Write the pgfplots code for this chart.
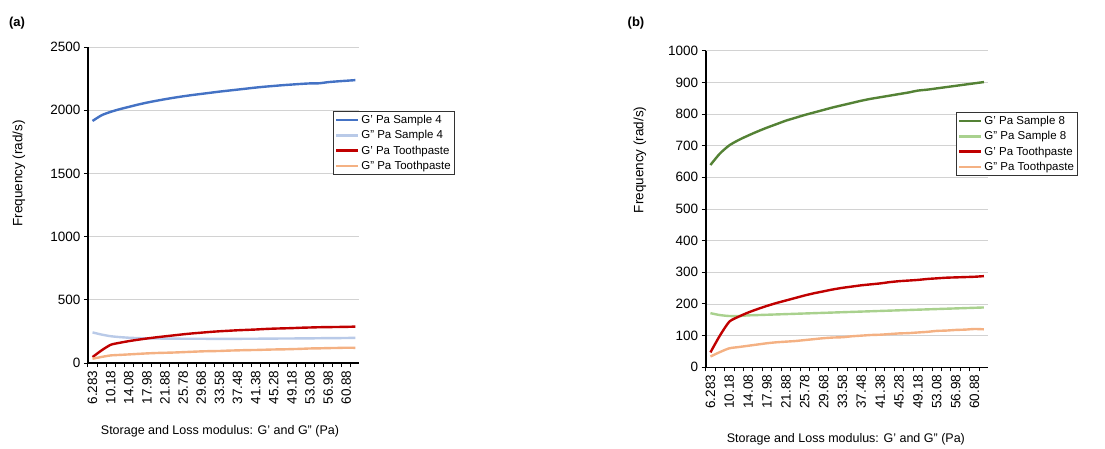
\documentclass[border=0pt]{standalone}
\usepackage{fontspec}
\setmainfont{Liberation Sans}
\usepackage{pgfplots}
\usepackage{pgfplotstable}
\pgfplotsset{compat=1.18}

\newcommand{\sq}{\symbol{39}}
\newcommand{\dq}{\symbol{34}}

\definecolor{cBlue}{HTML}{4472C4}
\definecolor{cLBlue}{HTML}{B9CAE8}
\definecolor{cRed}{HTML}{C00000}
\definecolor{cOrange}{HTML}{F4B183}
\definecolor{cGreen}{HTML}{548235}
\definecolor{cLGreen}{HTML}{A9D18E}

% i = category index (6.283 ... 62.83 rad/s)
\pgfplotstableread{
i  gps4 gpps4 gps8 gpps8 gpt  gppt
0  1915 242   639  171   47   34
1  1960 225   675  165   100  48
2  1987 212   701  162   144  60
3  2008 205   718  162   160  64
4  2026 200   732  164   173  68
5  2044 197   745  165   184  72
6  2060 195   757  166   194  76
7  2074 194   768  167   203  79
8  2087 193   779  168   211  81
9  2099 193   788  169   219  83
10 2110 192   797  170   227  86
11 2120 192   805  171   234  89
12 2129 192   813  172   240  92
13 2138 191   821  173   246  94
14 2147 191   828  174   251  95
15 2155 191   835  175   255  98
16 2163 191   842  176   259  100
17 2171 192   848  177   262  102
18 2179 192   853  178   265  103
19 2186 193   858  179   269  105
20 2192 193   863  180   272  107
21 2198 194   868  181   274  108
22 2203 194   874  182   276  110
23 2208 195   877  183   279  112
24 2212 195   881  184   281  115
25 2213 196   885  185   283  116
26 2222 197   889  186   284  118
27 2228 197   893  187   285  119
28 2233 198   897  188   286  121
29 2238 199   901  189   288  120
}\rheo

\pgfplotsset{
  panel/.style={
    scale only axis,
    axis x line*=bottom, axis y line*=left,
    axis line style={black, line width=1.6pt},
    xmin=-0.5, xmax=29.4, ymin=0,
    xtick={0,2,...,28},
    xticklabels={6.283,10.18,14.08,17.98,21.88,25.78,29.68,33.58,37.48,41.38,45.28,49.18,53.08,56.98,60.88},
    minor xtick={-0.5,0.5,...,29.5},
    major x tick style={draw=none},
    minor x tick style={black, line width=1pt},
    y tick style={black, line width=1pt},
    tick align=outside,
    major tick length=4pt, minor tick length=4pt,
    xticklabel style={rotate=90, anchor=east},
    ticklabel style={font=\fontsize{13.5}{15}\selectfont},
    /pgf/number format/assume math mode=true,
    /pgf/number format/set thousands separator={},
    ymajorgrids, grid style={gray!35, line width=0.7pt},
    xlabel style={font=\fontsize{12.5}{14}\selectfont},
    ylabel style={font=\fontsize{13.5}{15}\selectfont},
    every axis plot/.append style={line width=2.4pt, line join=round, smooth, tension=0.4},
    legend cell align=left,
    legend image code/.code={\draw[#1, line width=2.4pt] (0pt,0pt) -- (22pt,0pt);},
    legend style={anchor=north west, draw=black!80, line width=0.9pt,
      font=\fontsize{11.5}{13}\selectfont, inner sep=1.5pt, row sep=1.5pt},
    clip=false,
  }
}

\begin{document}
\begin{tikzpicture}[x=1pt,y=1pt]
\path[use as bounding box] (0,0) rectangle (1105,448);
\node[font=\bfseries\fontsize{13}{15}\selectfont] at (17,425) {(a)};
\node[font=\bfseries\fontsize{13}{15}\selectfont] at (636,425) {(b)};

\begin{axis}[panel,
  at={(88pt,85pt)}, anchor=south west,
  width=271pt, height=316pt,
  ymax=2500, ytick={0,500,...,2500},
  ylabel={Frequency (rad/s)},
  ylabel style={at={(axis description cs:-0.255,0.60)}, anchor=center, rotate=0},
  xlabel={Storage and Loss modulus: G\sq{} and G\dq{} (Pa)},
  xlabel style={at={(axis description cs:0.487,-0.215)}, anchor=center},
  legend style={at={(axis description cs:0.904,0.797)}},
]
\addplot[cBlue] table[x=i, y=gps4] {\rheo};
\addplot[cLBlue] table[x=i, y=gpps4] {\rheo};
\addplot[cRed] table[x=i, y=gpt] {\rheo};
\addplot[cOrange] table[x=i, y=gppt] {\rheo};
\legend{G\sq{} Pa Sample 4, G\dq{} Pa Sample 4, G\sq{} Pa Toothpaste, G\dq{} Pa Toothpaste}
\end{axis}

\begin{axis}[panel,
  at={(705.7pt,80.7pt)}, anchor=south west,
  width=282pt, height=316.6pt,
  ymax=1000, ytick={0,100,...,1000},
  ylabel={Frequency (rad/s)},
  ylabel style={at={(axis description cs:-0.233,0.655)}, anchor=center, rotate=0},
  xlabel={Storage and Loss modulus: G\sq{} and G\dq{} (Pa)},
  xlabel style={at={(axis description cs:0.497,-0.226)}, anchor=center},
  legend style={at={(axis description cs:0.888,0.806)}},
]
\addplot[cGreen] table[x=i, y=gps8] {\rheo};
\addplot[cLGreen] table[x=i, y=gpps8] {\rheo};
\addplot[cRed] table[x=i, y=gpt] {\rheo};
\addplot[cOrange] table[x=i, y=gppt] {\rheo};
\legend{G\sq{} Pa Sample 8, G\dq{} Pa Sample 8, G\sq{} Pa Toothpaste, G\dq{} Pa Toothpaste}
\end{axis}
\end{tikzpicture}
\end{document}
